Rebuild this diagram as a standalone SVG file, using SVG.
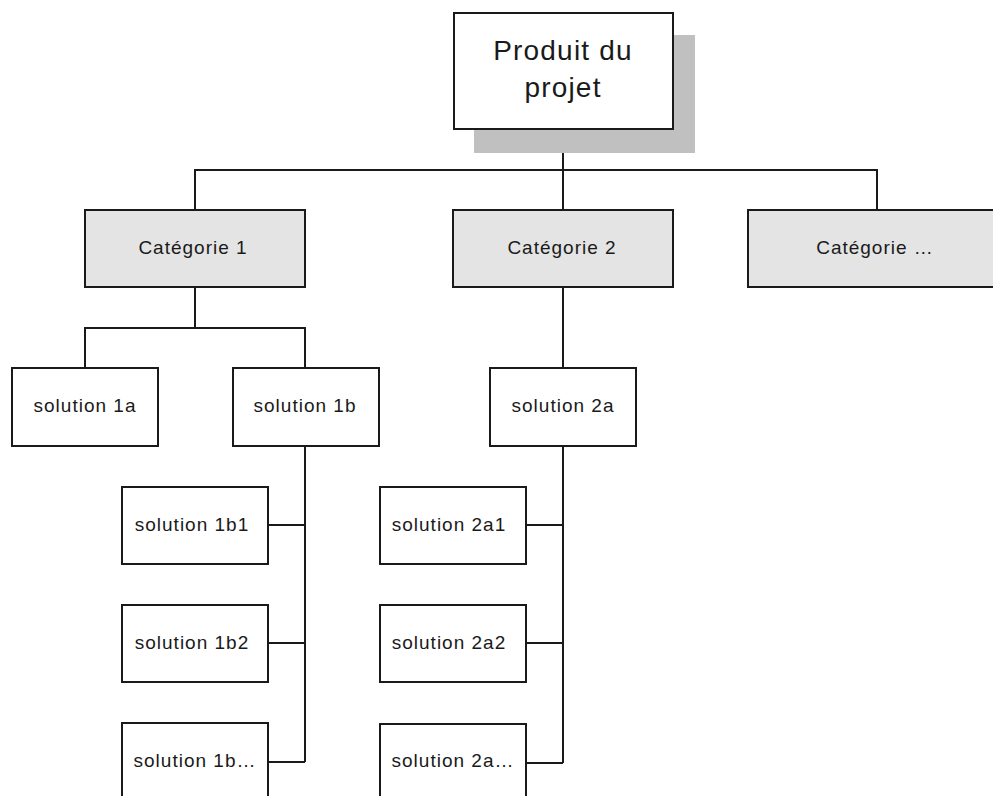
<svg xmlns="http://www.w3.org/2000/svg" width="993" height="796" viewBox="0 0 993 796">
  <style>
    .box { fill: #ffffff; stroke: #1a1a1a; stroke-width: 2; }
    .cat { fill: #e4e4e4; stroke: #1a1a1a; stroke-width: 2; }
    .shadow { fill: #c0c0c0; stroke: none; }
    .lbl { font-family: "Liberation Sans", Arial, sans-serif; font-size: 19px; letter-spacing: 1px; fill: #1a1a1a; text-anchor: middle; }
    .big { font-family: "Liberation Sans", Arial, sans-serif; font-size: 28px; letter-spacing: 1.2px; fill: #1a1a1a; text-anchor: middle; }
    #connectors path { fill: none; stroke: #1a1a1a; stroke-width: 2; }
  </style>
  <rect width="993" height="796" fill="#ffffff"/>

  <!-- tree connectors -->
  <g id="connectors">
    <path d="M563,130 V209"/>
    <path d="M195,209 V170 H877 V209"/>
    <path d="M195,288 V328"/>
    <path d="M85,367 V328 H305 V367"/>
    <path d="M563,288 V367"/>
    <path d="M305,447 V762"/>
    <path d="M269,525 H305 M269,643 H305 M269,762 H305"/>
    <path d="M563,447 V763"/>
    <path d="M527,525 H563 M527,643 H563 M527,763 H563"/>
  </g>

  <!-- root -->
  <g id="root">
    <rect class="shadow" x="474" y="35" width="221" height="118"/>
    <rect class="box" x="454" y="13" width="219" height="116"/>
    <text class="big" x="563" y="60">Produit du</text>
    <text class="big" x="563" y="97">projet</text>
  </g>

  <!-- categories -->
  <g id="cat1">
    <rect class="cat" x="85" y="210" width="220" height="77"/>
    <text class="lbl" x="193" y="254">Catégorie 1</text>
  </g>
  <g id="cat2">
    <rect class="cat" x="453" y="210" width="220" height="77"/>
    <text class="lbl" x="562" y="254">Catégorie 2</text>
  </g>
  <g id="cat3">
    <rect class="cat" x="748" y="210" width="258" height="77"/>
    <text class="lbl" x="875" y="254">Catégorie …</text>
  </g>

  <!-- first-level solutions -->
  <g id="sol1a">
    <rect class="box" x="12" y="368" width="146" height="78"/>
    <text class="lbl" x="85" y="412">solution 1a</text>
  </g>
  <g id="sol1b">
    <rect class="box" x="233" y="368" width="146" height="78"/>
    <text class="lbl" x="305" y="412">solution 1b</text>
  </g>
  <g id="sol2a">
    <rect class="box" x="490" y="368" width="146" height="78"/>
    <text class="lbl" x="563" y="412">solution 2a</text>
  </g>

  <!-- second-level solutions under 1b -->
  <g id="sol1b1">
    <rect class="box" x="122" y="487" width="146" height="77"/>
    <text class="lbl" x="192" y="531">solution 1b1</text>
  </g>
  <g id="sol1b2">
    <rect class="box" x="122" y="605" width="146" height="77"/>
    <text class="lbl" x="192" y="649">solution 1b2</text>
  </g>
  <g id="sol1b3">
    <rect class="box" x="122" y="723" width="146" height="78"/>
    <text class="lbl" x="195" y="767">solution 1b…</text>
  </g>

  <!-- second-level solutions under 2a -->
  <g id="sol2a1">
    <rect class="box" x="380" y="487" width="146" height="77"/>
    <text class="lbl" x="449" y="531">solution 2a1</text>
  </g>
  <g id="sol2a2">
    <rect class="box" x="380" y="605" width="146" height="77"/>
    <text class="lbl" x="449" y="649">solution 2a2</text>
  </g>
  <g id="sol2a3">
    <rect class="box" x="380" y="724" width="146" height="78"/>
    <text class="lbl" x="453" y="767">solution 2a…</text>
  </g>
</svg>
